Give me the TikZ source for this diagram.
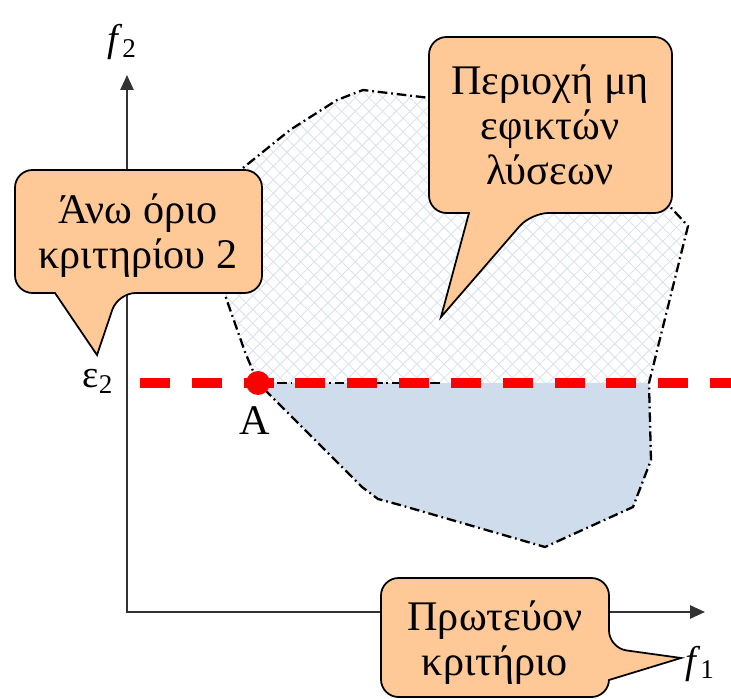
\documentclass[tikz,border=0pt]{standalone}
\usepackage{fontspec}
\setmainfont{Liberation Serif}
\usetikzlibrary{arrows.meta,patterns.meta}
\definecolor{Peach}{HTML}{FFC997}
\definecolor{Feasible}{HTML}{CFDCEC}
\definecolor{Hatch}{HTML}{DCE3EF}
\definecolor{Limit}{HTML}{FF0000}
\definecolor{Axis}{HTML}{333333}

\begin{document}
\begin{tikzpicture}[
    x=0.02cm, y=-0.02cm,
    callout/.style={
        draw=black,
        line width=1pt,
        fill=Peach,
        rounded corners=10pt
    },
    callouttext/.style={
        font=\fontsize{24}{25.6}\selectfont,
        align=center,
        inner sep=0pt
    },
    boundary/.style={
        draw=black,
        line width=1.3pt,
        dash pattern=on 5.5pt off 2.2pt on 1pt off 2.2pt
    },
    hatch/.style={
        pattern={Lines[angle=45,distance=5.5pt,line width=0.55pt]},
        pattern color=Hatch,
        postaction={pattern={Lines[angle=-45,distance=5.5pt,line width=0.55pt]}, pattern color=Hatch}
    },
    axis/.style={
        {Triangle[length=8.5pt,width=7.5pt]}-{Triangle[length=8.5pt,width=7.5pt]},
        draw=Axis,
        line width=1.1pt
    },
    limit/.style={
        draw=Limit,
        line width=5.5pt,
        dash pattern=on 17pt off 12.5pt
    },
    axislabel/.style={
        font=\fontsize{22}{24}\selectfont,
        anchor=base,
        inner sep=0pt
    }
]

\useasboundingbox (0,0) rectangle (731,699);

% Region vertices
\coordinate (A) at (258,383);
\coordinate (v2) at (245,352);
\coordinate (v3) at (225,295);
\coordinate (v4) at (238,172);
\coordinate (v5) at (290,130);
\coordinate (v6) at (337,100);
\coordinate (v7) at (363,90);
\coordinate (v8) at (430,98);
\coordinate (v9) at (650,185);
\coordinate (v10) at (688,226);
\coordinate (v11) at (649,383);
\coordinate (v12) at (651,460);
\coordinate (v13) at (633,507);
\coordinate (v14) at (545,547);
\coordinate (v15) at (400,505);
\coordinate (v16) at (378,499);
\coordinate (v17) at (362,487);

% Feasible part below the limit
\fill[Feasible] (A) -- (v17) -- (v16) -- (v15) -- (v14) -- (v13) -- (v12) -- (v11) -- cycle;

% Infeasible part above the limit
\fill[hatch] (A) -- (v2) -- (v3) -- (v4) -- (v5) -- (v6) -- (v7) -- (v8) -- (v9) -- (v10) -- (v11) -- cycle;

% Outline
\draw[boundary] (A) -- (v2) -- (v3) -- (v4) -- (v5) -- (v6) -- (v7) -- (v8) -- (v9) -- (v10)
    -- (v11) -- (v12) -- (v13) -- (v14) -- (v15) -- (v16) -- (v17) -- cycle;
\coordinate (seam) at (443,383);
\draw[boundary] (A) -- (seam);

% Axes
\coordinate (O) at (127,612);
\coordinate (ytip) at (127,75);
\coordinate (xtip) at (705,612);
\draw[axis] (ytip) -- (O) -- (xtip);

\node[axislabel] (f2) at (122,52) {\textit{f}\textsubscript{2}};
\node[axislabel] (f1) at (700,673) {\textit{f}\textsubscript{1}};
\node[axislabel] (eps) at (98,388) {ε\textsubscript{2}};

% Upper limit on criterion 2
\coordinate (lstart) at (140,383);
\coordinate (lend) at (731,383);
\draw[limit] (lstart) -- (lend);
\fill[Limit] (A) circle[radius=12];
\node[axislabel, font=\fontsize{24}{26}\selectfont] (Alab) at (255,435) {A};

% Callouts
\draw[callout] (138,170) -- (262,170) -- (262,293) -- (118,293) [sharp corners] -- (97,355)
    -- (55,293) [rounded corners=10pt] -- (15,293) -- (15,170) -- cycle;
\node[callouttext] (upperlimit) at (138,236) {Άνω όριο\\κριτηρίου 2};

\draw[callout] (550,37) -- (672,37) -- (672,213) -- (531,213) [sharp corners] -- (441,317)
    -- (469,213) [rounded corners=10pt] -- (429,213) -- (429,37) -- cycle;
\node[callouttext] (infeasible) at (550,125) {Περιοχή μη\\εφικτών\\λύσεων};

\draw[callout] (495,578) -- (609,578) -- (609,648) [sharp corners] -- (681,658)
    -- (609,680) [rounded corners=10pt] -- (609,697) -- (381,697) -- (381,578) -- cycle;
\node[callouttext] (primary) at (495,643) {Πρωτεύον\\κριτήριο};

\end{tikzpicture}
\end{document}
